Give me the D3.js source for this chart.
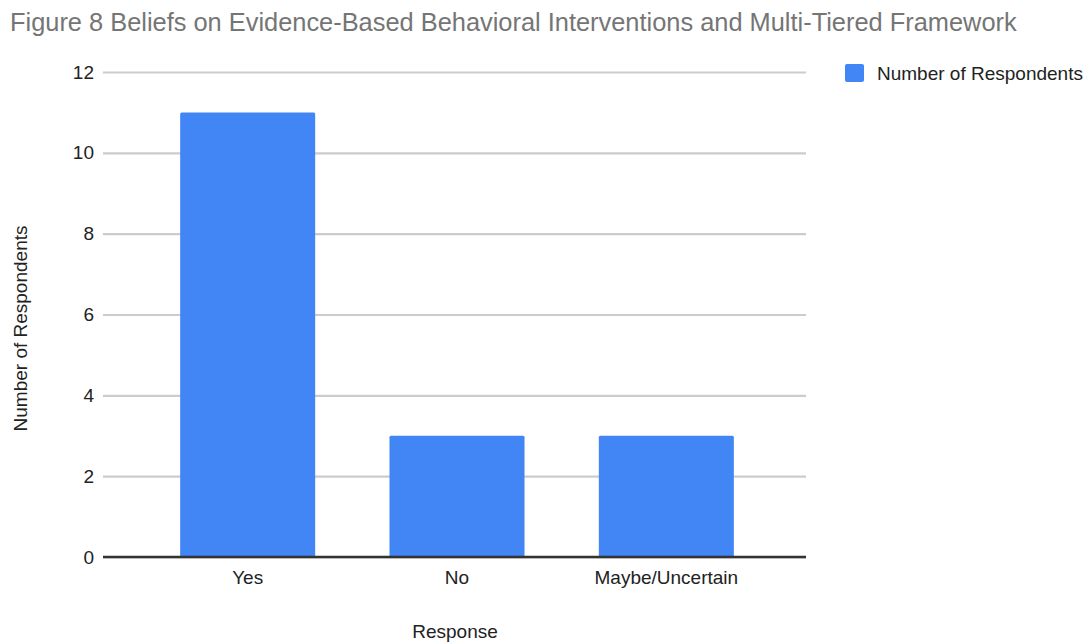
<!DOCTYPE html>
<html>
<head>
<meta charset="utf-8">
<script src="https://cdn.jsdelivr.net/npm/d3@7"></script>
<style>
  html, body { margin: 0; padding: 0; background: #fff; }
  svg { display: block; font-family: "Liberation Sans", Arial, sans-serif; }
</style>
</head>
<body>
<svg id="chart" width="1088" height="642"></svg>
<script>
// Survey responses
const categories = ["Yes", "No", "Maybe/Uncertain"];
const respondents = [11, 3, 3];
const yTicks = [0, 2, 4, 6, 8, 10, 12];
const seriesName = "Number of Respondents";
const titleText = "Figure 8 Beliefs on Evidence-Based Behavioral Interventions and Multi-Tiered Framework";

const svg = d3.select("#chart");
const plot = { left: 103, right: 806, top: 72, bottom: 557 };
const labelFont = 19;

const x = d3.scaleBand()
  .domain(categories)
  .range([143, 771])
  .paddingInner(0.355)
  .paddingOuter(0.1775);

const y = d3.scaleLinear()
  .domain([0, 12])
  .range([plot.bottom, plot.top]);

// Title
svg.append("text")
  .attr("x", 10)
  .attr("y", 31)
  .attr("font-size", 25.4)
  .attr("fill", "#757575")
  .text(titleText);

// Gridlines and y tick labels
const yAxis = d3.axisLeft(y).tickValues(yTicks).tickSize(-(plot.right - plot.left)).tickPadding(9);
const gy = svg.append("g")
  .attr("transform", `translate(${plot.left},0)`)
  .call(yAxis);
gy.select(".domain").remove();
gy.selectAll(".tick line").attr("stroke", "#cccccc").attr("stroke-width", 2.2);
gy.selectAll(".tick text")
  .attr("font-size", labelFont)
  .attr("fill", "#222")
  .attr("font-family", "'Liberation Sans', Arial, sans-serif");

// Bars
svg.append("g")
  .selectAll("rect")
  .data(categories.map((c, i) => ({ c, v: respondents[i] })))
  .join("rect")
  .attr("x", d => x(d.c))
  .attr("y", d => y(d.v))
  .attr("width", x.bandwidth())
  .attr("height", d => y(0) - y(d.v))
  .attr("rx", 1.5)
  .attr("fill", "#4285f4");

// Baseline
svg.append("line")
  .attr("x1", plot.left).attr("x2", plot.right)
  .attr("y1", y(0)).attr("y2", y(0))
  .attr("stroke", "#333333").attr("stroke-width", 2.6);

// X axis labels
const xAxis = d3.axisBottom(x).tickSize(0).tickPadding(14);
const gx = svg.append("g")
  .attr("transform", `translate(0,${plot.bottom})`)
  .call(xAxis);
gx.select(".domain").remove();
gx.selectAll(".tick text")
  .attr("font-size", labelFont)
  .attr("fill", "#222")
  .attr("font-family", "'Liberation Sans', Arial, sans-serif");

// Axis titles
svg.append("text")
  .attr("x", 455)
  .attr("y", 638)
  .attr("text-anchor", "middle")
  .attr("font-size", labelFont)
  .attr("fill", "#222")
  .text("Response");

svg.append("text")
  .attr("transform", `translate(27,${(plot.top + plot.bottom) / 2 + 14}) rotate(-90)`)
  .attr("text-anchor", "middle")
  .attr("font-size", labelFont)
  .attr("fill", "#222")
  .text(seriesName);

// Legend
const legend = svg.append("g").attr("transform", "translate(845,64)");
legend.append("rect")
  .attr("width", 19).attr("height", 18).attr("rx", 2)
  .attr("fill", "#4285f4");
legend.append("text")
  .attr("x", 32).attr("y", 16)
  .attr("font-size", labelFont)
  .attr("fill", "#222")
  .text(seriesName);
</script>
</body>
</html>
